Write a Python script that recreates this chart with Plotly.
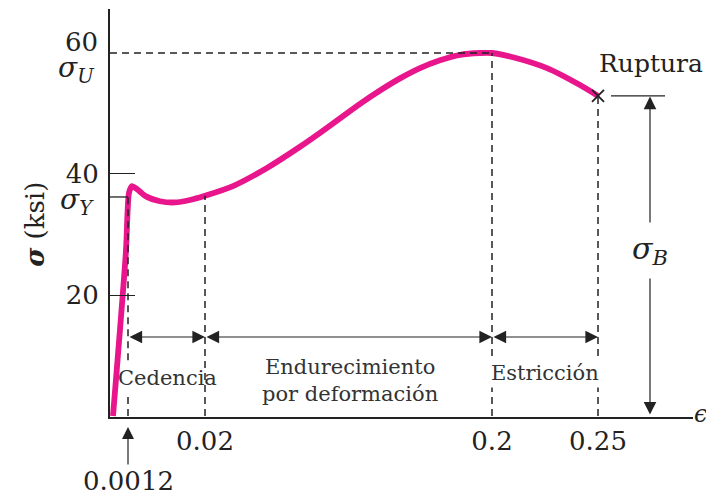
import plotly.graph_objects as go

# ---- data (diagram is schematic: x positions are not to scale) ----
strain_labels = ["0.0012", "0.02", "0.2", "0.25"]
strain_pos = [0.18, 0.95, 3.82, 4.88]          # schematic axis positions
stress_ticks = [20, 40]
sigma_Y = 36.2
sigma_U = 60.0
sigma_R = 52.9
curve_x = [0.03, 0.16, 0.175, 0.19, 0.22, 0.27, 0.36, 0.50, 0.65, 0.80, 0.95,
           1.23, 1.57, 1.90, 2.10, 2.30, 2.50, 2.70, 2.90, 3.10, 3.30, 3.50, 3.70, 3.82,
           4.03, 4.37, 4.70, 4.88]
curve_y = [0.0, 27.4, 33.5, 36.9, 38.0, 37.5, 36.3, 35.5, 35.3, 35.7, 36.4,
           38.0, 41.0, 44.5, 46.8, 49.2, 51.6, 53.8, 55.8, 57.5, 58.8, 59.7, 60.0, 60.0,
           59.3, 57.5, 54.7, 52.9]
region_labels = ["Cedencia", "Endurecimiento<br>por deformación", "Estricción"]
region_x = [0.57, 2.40, 4.35]
region_y = [6.3, 5.8, 7.1]
sigmaB_pos = 5.40

FONT = "DejaVu Serif"
INK = "#222222"
PINK = "#e8158c"

fig = go.Figure()
fig.add_trace(go.Scatter(x=curve_x, y=curve_y, mode="lines",
                         line=dict(color=PINK, width=5.8, shape="spline", smoothing=0.7),
                         hoverinfo="skip", showlegend=False))
fig.add_trace(go.Scatter(x=[strain_pos[3]], y=[sigma_R], mode="markers",
                         marker=dict(symbol="x-thin", size=12, line=dict(color=INK, width=1.8)),
                         hoverinfo="skip", showlegend=False))

dash = dict(color=INK, width=1.5, dash="7px,5px")
solid = dict(color=INK, width=1.3)
shapes = [
    dict(type="line", x0=0, x1=strain_pos[2], y0=sigma_U, y1=sigma_U, line=dash),
    # 0.0012 line, interrupted behind the "Cedencia" label
    dict(type="line", x0=strain_pos[0], x1=strain_pos[0], y0=0, y1=3.4, line=dash),
    dict(type="line", x0=strain_pos[0], x1=strain_pos[0], y0=9.2, y1=sigma_Y, line=dash),
    dict(type="line", x0=strain_pos[1], x1=strain_pos[1], y0=0, y1=curve_y[10], line=dash),
    dict(type="line", x0=strain_pos[2], x1=strain_pos[2], y0=0, y1=sigma_U, line=dash),
    dict(type="line", x0=strain_pos[3], x1=strain_pos[3], y0=0, y1=sigma_R, line=dash),
    dict(type="line", x0=0, x1=strain_pos[0], y0=sigma_Y, y1=sigma_Y, line=solid),
    dict(type="line", x0=5.01, x1=5.55, y0=sigma_R, y1=sigma_R, line=solid),
]
for s in shapes:
    s.update(xref="x", yref="y")
fig.update_layout(shapes=shapes)

ann = []
arrow_y = 13.06
for a, b in zip(strain_pos[:-1], strain_pos[1:]):
    ann.append(dict(x=b, y=arrow_y, ax=a, ay=arrow_y, axref="x", ayref="y", xref="x", yref="y",
                    text="", showarrow=True, arrowside="end+start", arrowhead=2, startarrowhead=2,
                    arrowsize=2.1, startarrowsize=2.1, arrowwidth=1.2, arrowcolor=INK,
                    standoff=0, startstandoff=0))
# sigma_B arrow
ann.append(dict(x=sigmaB_pos, y=sigma_R - 0.1, ax=sigmaB_pos, ay=0.0, axref="x", ayref="y",
                xref="x", yref="y", text="", showarrow=True, arrowside="end+start",
                arrowhead=2, startarrowhead=2, arrowsize=2.1, startarrowsize=2.1,
                arrowwidth=1.2, arrowcolor=INK, standoff=0, startstandoff=0))
ann.append(dict(x=sigmaB_pos, y=27.4, xref="x", yref="y", showarrow=False,
                text="<i>σ</i><sub><i>B</i></sub>", bgcolor="white", borderpad=8,
                font=dict(family=FONT, size=30, color=INK)))
# region labels
for i, (txt, xc, yc) in enumerate(zip(region_labels, region_x, region_y)):
    ann.append(dict(x=xc, y=yc, xref="x", yref="y", showarrow=False, text=txt,
                    bgcolor="rgba(0,0,0,0)" if i == 0 else "white", borderpad=2,
                    font=dict(family=FONT, size=21, color="#333333")))
# 0.0012 label with arrow
ann.append(dict(x=strain_pos[0], y=-0.0245, xref="x", yref="paper", ax=0, ay=54,
                axref="pixel", ayref="pixel", text=strain_labels[0], showarrow=True,
                arrowhead=2, arrowsize=2, arrowwidth=1.2, arrowcolor=INK, standoff=0,
                font=dict(family=FONT, size=26, color=INK)))
# y side labels
ann += [
    dict(x=-0.0172, y=61.8, xref="paper", yref="y", xanchor="right", showarrow=False, text="60",
         font=dict(family=FONT, size=26, color=INK)),
    dict(x=-0.0223, y=57.3, xref="paper", yref="y", xanchor="right", showarrow=False,
         text="<i>σ</i><sub><i>U</i></sub>", font=dict(family=FONT, size=28, color=INK)),
    dict(x=-0.024, y=35.5, xref="paper", yref="y", xanchor="right", showarrow=False,
         text="<i>σ</i><sub><i>Y</i></sub>", font=dict(family=FONT, size=28, color=INK)),
    dict(x=-0.1286, y=31.6, xref="paper", yref="y", xanchor="center", yanchor="middle",
         showarrow=False, textangle=-90,
         text="<b><i>σ</i></b> (ksi)", font=dict(family=FONT, size=26, color=INK)),
    dict(x=5.41, y=58.3, xref="x", yref="y", showarrow=False, text="Ruptura",
         font=dict(family=FONT, size=25, color=INK)),
    dict(x=1.0, y=0.3, xref="paper", yref="y", xanchor="left", xshift=-1, showarrow=False,
         text="<i>ϵ</i>", font=dict(family=FONT, size=24, color=INK)),
]
fig.update_layout(annotations=ann)

fig.update_layout(
    width=706, height=490, autosize=False,
    margin=dict(l=102, r=21, t=1, b=81),
    paper_bgcolor="white", plot_bgcolor="white",
    font=dict(family=FONT, color=INK),
    xaxis=dict(range=[0, 5.83], showgrid=False, zeroline=False, showline=True,
               linecolor=INK, linewidth=2, tickvals=strain_pos[1:], ticktext=strain_labels[1:],
               ticks="", tickfont=dict(family=FONT, size=26, color=INK), ticklabelstandoff=0),
    yaxis=dict(range=[-0.165, 67.27], showgrid=False, zeroline=False, showline=True,
               linecolor=INK, linewidth=2, tickvals=stress_ticks,
               ticktext=[str(v) for v in stress_ticks], ticks="inside", ticklen=25,
               tickwidth=1.3, tickcolor=INK, tickfont=dict(family=FONT, size=26, color=INK),
               ticklabelstandoff=4),
)
fig.write_html("out.html")
